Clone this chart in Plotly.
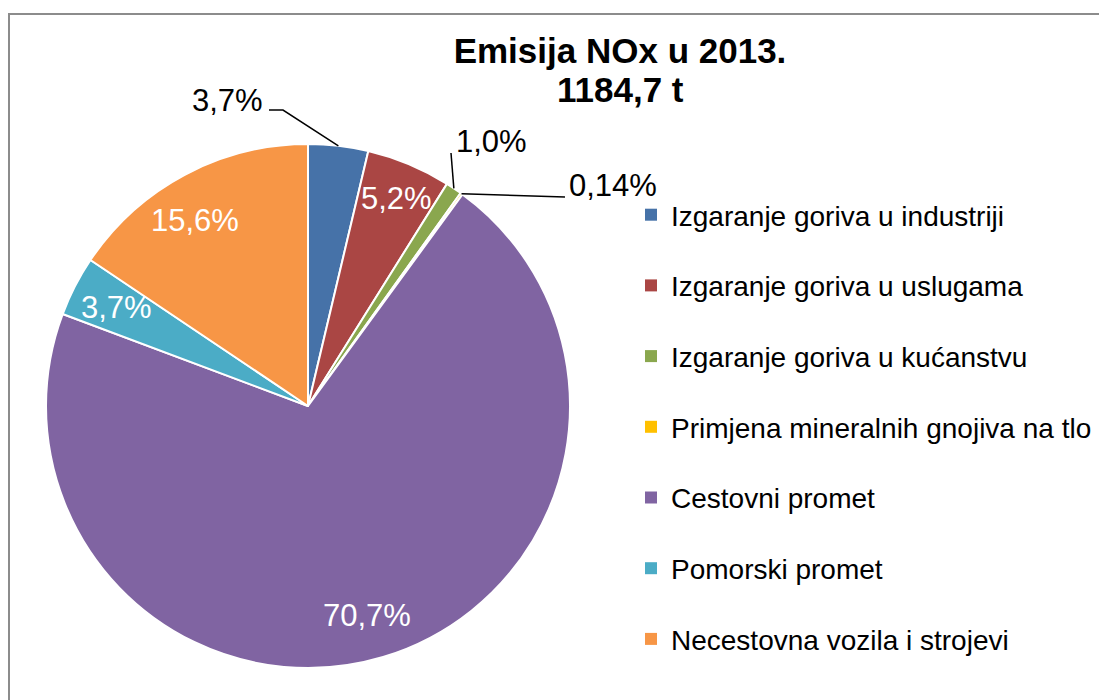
import math
import plotly.graph_objects as go

# ---- data ----
categories = [
    "Izgaranje goriva u industriji",
    "Izgaranje goriva u uslugama",
    "Izgaranje goriva u kućanstvu",
    "Primjena mineralnih gnojiva na tlo",
    "Cestovni promet",
    "Pomorski promet",
    "Necestovna vozila i strojevi",
]
shares = [3.7, 5.2, 1.0, 0.14, 70.7, 3.7, 15.6]
share_labels = ["3,7%", "5,2%", "1,0%", "0,14%", "70,7%", "3,7%", "15,6%"]
colors = ["#4672A8", "#AA4644", "#8AA74E", "#FFC000", "#8064A2", "#4BACC6", "#F79646"]
title_lines = ["Emisija NOx u 2013.", "1184,7 t"]

# ---- layout helpers ----
W, H = 1107, 700
OFF = 8  # page body margin in the browser
CX, CY, R = 308, 406, 262
FONT = "Liberation Sans, Arial, sans-serif"


def px(x):
    return (x - OFF) / W


def py(y):
    return 1 - (y - OFF) / H


fig = go.Figure()
fig.add_trace(go.Pie(
    labels=categories,
    values=shares,
    sort=False,
    direction="clockwise",
    rotation=0,
    marker=dict(colors=colors, line=dict(color="white", width=2)),
    textinfo="none",
    showlegend=False,
    hoverinfo="label+percent",
    domain=dict(x=[px(CX - R), px(CX + R)], y=[py(CY + R), py(CY - R)]),
))

# legend entries (one group per category so spacing can be controlled)
for i, (name, col) in enumerate(zip(categories, colors)):
    fig.add_trace(go.Scatter(
        x=[None], y=[None], mode="markers", name=name,
        marker=dict(symbol="square", size=12, color=col),
        legendgroup=str(i), showlegend=True, hoverinfo="skip",
    ))

# slice mid angles from the data
total = sum(shares)
mids = []
cum = 0.0
for v in shares:
    a0 = cum / total * 2 * math.pi
    cum += v
    a1 = cum / total * 2 * math.pi
    mids.append((a0 + a1) / 2)


def polar(a, r):
    return CX + r * math.sin(a), CY - r * math.cos(a)


annotations = []
shapes = []
# inside labels: index -> (radius factor, pixel nudge)
inside = {1: (0.86, (2, 0)), 4: (0.835, (-4, 0)), 5: (0.83, (2, 1)), 6: (0.84, (-9, 9))}
for i, (rf, (nx, ny)) in inside.items():
    x, y = polar(mids[i], rf * R)
    annotations.append(dict(
        x=px(x + nx), y=py(y + ny), xref="paper", yref="paper", text=share_labels[i],
        showarrow=False, xanchor="center", yanchor="middle",
        font=dict(family=FONT, size=31, color="white"),
    ))

# outside labels: (index, text centre, leader path points after the slice tip)
outside = [
    (0, (227, 100), [(283, 110), (269, 110)]),
    (2, (492, 142), [(451, 153)]),
    (3, (613, 186), [(565, 197)]),
]
for i, (tx, ty), pts in outside:
    annotations.append(dict(
        x=px(tx), y=py(ty), xref="paper", yref="paper", text=share_labels[i],
        showarrow=False, xanchor="center", yanchor="middle",
        font=dict(family=FONT, size=31, color="black"),
    ))
    tip = polar(mids[i], R)
    path = "M {} {}".format(px(tip[0]), py(tip[1]))
    for (qx, qy) in pts:
        path += " L {} {}".format(px(qx), py(qy))
    shapes.append(dict(type="path", path=path, xref="paper", yref="paper",
                       line=dict(color="black", width=1.5)))

# second title line
annotations.append(dict(
    x=px(620), y=py(90), xref="paper", yref="paper",
    text="<b>" + title_lines[1] + "</b>", showarrow=False,
    xanchor="center", yanchor="middle",
    font=dict(family=FONT, size=35, color="black"),
))

# outer frame
shapes.append(dict(type="rect", xref="paper", yref="paper",
                   x0=px(9), x1=px(1130), y0=py(730), y1=py(14),
                   line=dict(color="#8C8C8C", width=2), layer="below"))

fig.update_layout(
    width=W, height=H,
    margin=dict(l=0, r=0, t=0, b=0),
    paper_bgcolor="white", plot_bgcolor="white",
    font=dict(family=FONT, color="black"),
    title=dict(
        text="<b>" + title_lines[0] + "</b>",
        x=px(620), xanchor="center", y=py(51), yanchor="middle", yref="container",
        font=dict(family=FONT, size=35, color="black"),
    ),
    legend=dict(
        x=px(631), y=py(190), xanchor="left", yanchor="top",
        font=dict(family=FONT, size=28, color="black"),
        tracegroupgap=31.3, itemsizing="constant", bgcolor="rgba(0,0,0,0)",
    ),
    xaxis=dict(visible=False), yaxis=dict(visible=False),
    annotations=annotations, shapes=shapes,
)

fig.write_html("out.html")
